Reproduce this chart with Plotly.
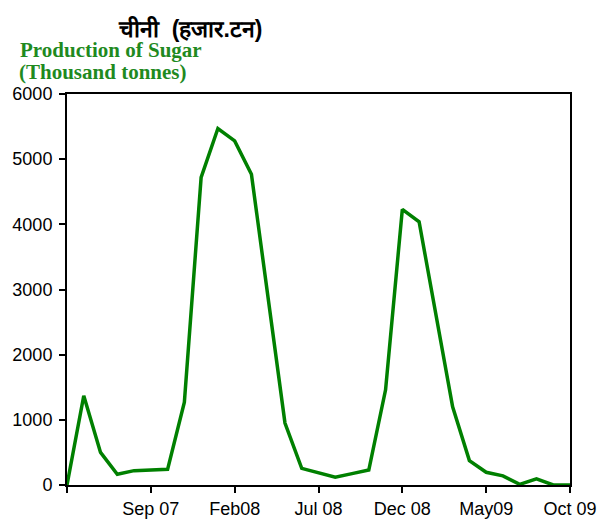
import plotly.graph_objects as go

months = ["Apr 07", "May 07", "Jun 07", "Jul 07", "Aug 07", "Sep 07", "Oct 07", "Nov 07",
          "Dec 07", "Jan 08", "Feb 08", "Mar 08", "Apr 08", "May 08", "Jun 08", "Jul 08",
          "Aug 08", "Sep 08", "Oct 08", "Nov 08", "Dec 08", "Jan 09", "Feb 09", "Mar 09",
          "Apr 09", "May 09", "Jun 09", "Jul 09", "Aug 09", "Sep 09", "Oct 09"]
production = [0, 1370, 500, 165, 220, 230, 240, 1270,
              4720, 5470, 5280, 4770, 2860, 950, 255, 188,
              120, 175, 230, 1460, 4230, 4040, 2620, 1200,
              375, 195, 140, 10, 95, 0, 0]
tick_pos = [0, 5, 10, 15, 20, 25, 30]
tick_labels = ["", "Sep 07", "Feb08", "Jul 08", "Dec 08", "May09", "Oct 09"]
y_ticks = [0, 1000, 2000, 3000, 4000, 5000, 6000]

x = list(range(len(months)))

W, H = 599, 519
ML, MR, MT, MB = 67, 29, 94, 34

fig = go.Figure()
fig.add_trace(go.Scatter(x=x, y=production, mode="lines",
                         line=dict(color="#008000", width=3.5),
                         text=months, hoverinfo="text+y"))

pw = W - ML - MR
ph = H - MT - MB
def px(xp):
    return (xp - ML) / pw
def py(yp):
    return (H - MB - yp) / ph

green = "#1f8a1f"
serif = "Liberation Serif, Times New Roman, serif"

fig.update_layout(
    width=W, height=H,
    margin=dict(l=ML, r=MR, t=MT, b=MB, autoexpand=False),
    plot_bgcolor="white", paper_bgcolor="white",
    showlegend=False,
    font=dict(family="Liberation Sans, Arial, sans-serif", size=18, color="black"),
    xaxis=dict(range=[0, 30], tickvals=tick_pos, ticktext=tick_labels, automargin=False,
               showgrid=False, zeroline=False, showline=True, linecolor="black",
               linewidth=2, mirror=True, ticks="outside", ticklen=6, tickwidth=1.5,
               tickcolor="black", tickfont=dict(size=18)),
    yaxis=dict(range=[0, 6000], tickvals=y_ticks, automargin=False,
               showgrid=False, zeroline=False, showline=True, linecolor="black",
               linewidth=2, mirror=True, ticks="outside", ticklen=6, tickwidth=1.5,
               tickcolor="black", tickfont=dict(size=18), ticklabelstandoff=3),
    annotations=[
        dict(text="<b>चीनी  (हजार.टन)</b>", x=px(190), y=py(28),
             xref="paper", yref="paper", xanchor="center", yanchor="middle",
             showarrow=False, font=dict(size=23, color="black")),
        dict(text="<b>Production of Sugar</b>", x=px(18), y=py(50),
             xref="paper", yref="paper", xanchor="left", yanchor="middle",
             showarrow=False, font=dict(family=serif, size=21, color=green)),
        dict(text="<b>(Thousand tonnes)</b>", x=px(17), y=py(72),
             xref="paper", yref="paper", xanchor="left", yanchor="middle",
             showarrow=False, font=dict(family=serif, size=21, color=green)),
    ],
)

fig.write_html("out.html", config={"displayModeBar": False},
               post_script="document.body.style.margin='0';document.body.style.padding='0';")
